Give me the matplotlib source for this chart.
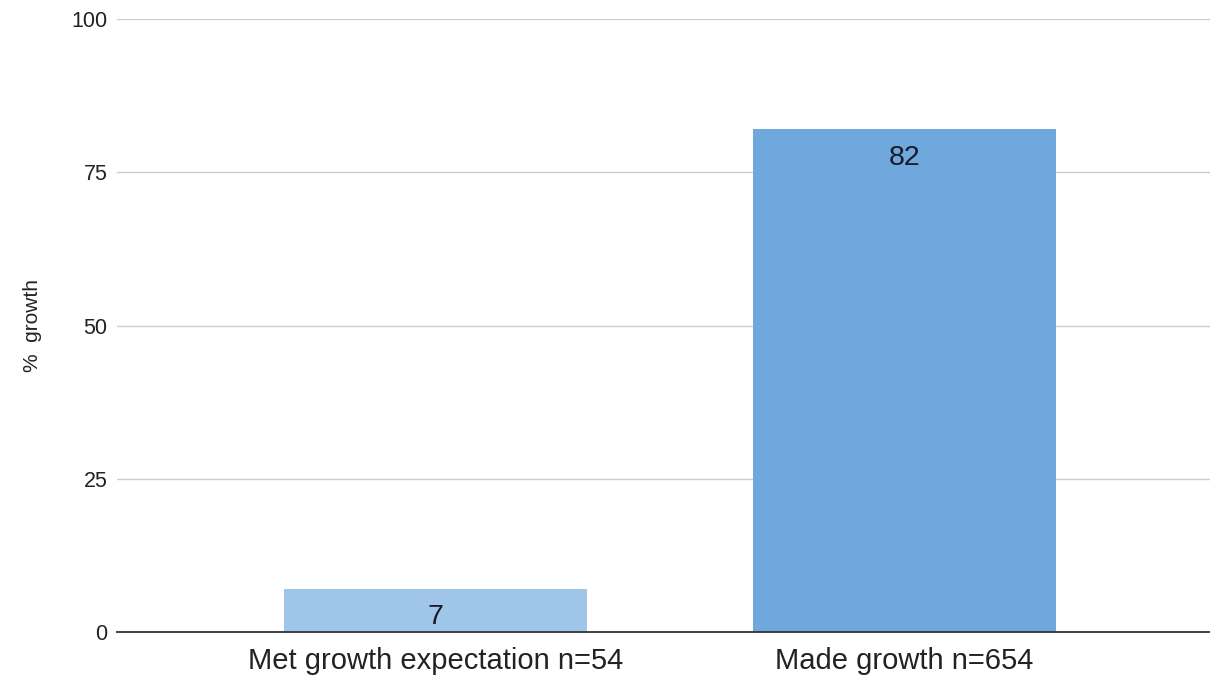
import matplotlib.pyplot as plt

plt.rcParams['font.family'] = ['Liberation Sans', 'DejaVu Sans']

categories = ['Met growth expectation n=54', 'Made growth n=654']
values = [7, 82]
bar_colors = ['#9fc5e8', '#6fa8dc']
y_ticks = [0, 25, 50, 75, 100]


def main():
    fig = plt.figure(figsize=(12.1, 6.79), dpi=100)
    ax = fig.add_axes([0.0967, 0.0692, 0.9033, 0.9028])

    x = range(len(categories))
    bars = ax.bar(x, values, width=0.647, color=bar_colors, zorder=2)

    ax.set_xlim(-0.68, 1.653)
    ax.set_ylim(0, 100)
    ax.set_yticks(y_ticks)
    ax.set_xticks(list(x))
    ax.set_xticklabels(categories)

    ax.grid(axis='y', color='#cccccc', linewidth=1, zorder=0)
    for side in ['top', 'right', 'left']:
        ax.spines[side].set_visible(False)
    ax.spines['bottom'].set_color('#333333')
    ax.spines['bottom'].set_linewidth(1.3)
    ax.spines['bottom'].set_zorder(3)

    ax.tick_params(axis='y', length=0, pad=7, labelsize=15.5, labelcolor='#222222')
    ax.tick_params(axis='x', length=0, pad=11, labelsize=21, labelcolor='#222222')

    ax.set_ylabel('%  growth', fontsize=15, color='#222222')
    ax.yaxis.set_label_coords(-0.069, 0.5)

    for b, v in zip(bars, values):
        ax.annotate(
            str(v),
            (b.get_x() + b.get_width() / 2, b.get_height()),
            xytext=(0, -11),
            textcoords='offset points',
            ha='center', va='top',
            fontsize=20.5, color='#1a1a2a',
        )

    fig.savefig('out.png')


if __name__ == '__main__':
    main()
